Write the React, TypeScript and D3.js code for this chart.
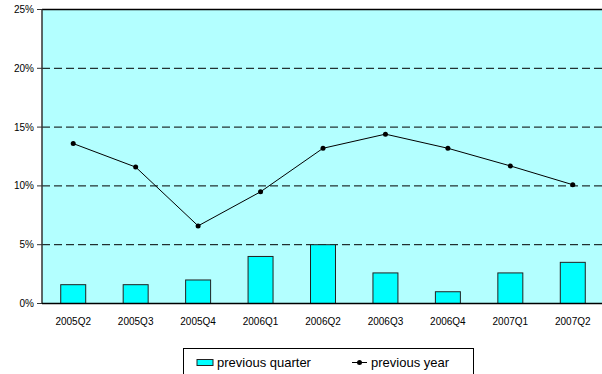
import React from "react";
import * as d3 from "d3";

const categories = ["2005Q2", "2005Q3", "2005Q4", "2006Q1", "2006Q2", "2006Q3", "2006Q4", "2007Q1", "2007Q2"];
const previousQuarter = [1.6, 1.6, 2.0, 4.0, 5.0, 2.6, 1.0, 2.6, 3.5];
const previousYear = [13.6, 11.6, 6.6, 9.5, 13.2, 14.4, 13.2, 11.7, 10.1];
const yTicks = [0, 5, 10, 15, 20, 25];

const W = 602;
const H = 374;
const plot = { left: 42, top: 9.5, right: 604, bottom: 303.5 };

export default function App() {
  const x = d3.scaleBand<string>().domain(categories).range([plot.left, plot.right]).paddingInner(0.6).paddingOuter(0.3);
  const xc = d3.scalePoint<string>().domain(categories).range([plot.left, plot.right]).padding(0.5);
  const y = d3.scaleLinear().domain([0, 25]).range([plot.bottom, plot.top]);
  const line = d3
    .line<number>()
    .x((_, i) => xc(categories[i]) as number)
    .y((d) => y(d));
  const font = "Liberation Sans, Arial, sans-serif";

  return (
    <svg width={W} height={H} style={{ position: "absolute", left: 0, top: 0 }}>
      <rect x={0} y={0} width={W} height={H} fill="#ffffff" />
      <rect x={plot.left} y={plot.top} width={plot.right - plot.left} height={plot.bottom - plot.top} fill="#b3ffff" />
      {yTicks.filter((t) => t > 0 && t < 25).map((t) => (
        <line key={t} x1={plot.left} x2={plot.right} y1={y(t)} y2={y(t)} stroke="#000" strokeWidth={1} strokeDasharray="8,4" />
      ))}
      <line x1={plot.left} x2={plot.right} y1={y(25)} y2={y(25)} stroke="#000" strokeWidth={1.5} />
      {categories.map((c, i) => (
        <rect
          key={c}
          x={x(c)}
          y={y(previousQuarter[i])}
          width={x.bandwidth()}
          height={y(0) - y(previousQuarter[i])}
          fill="#00ffff"
          stroke="#222"
          strokeWidth={1}
        />
      ))}
      <path d={line(previousYear) || ""} fill="none" stroke="#000" strokeWidth={1} />
      {previousYear.map((v, i) => (
        <circle key={i} cx={xc(categories[i])} cy={y(v)} r={2.5} fill="#000" />
      ))}
      <line x1={plot.left} x2={plot.left} y1={plot.top} y2={plot.bottom} stroke="#333" strokeWidth={1.5} />
      <line x1={plot.left} x2={plot.right} y1={plot.bottom} y2={plot.bottom} stroke="#000" strokeWidth={1.5} />
      {yTicks.map((t) => (
        <g key={t}>
          <line x1={plot.left - 5} x2={plot.left} y1={y(t)} y2={y(t)} stroke="#333" strokeWidth={1} />
          <text x={34} y={y(t)} dy="0.35em" textAnchor="end" fontFamily={font} fontSize={10} fill="#000">
            {t}%
          </text>
        </g>
      ))}
      {categories.map((c) => (
        <text key={c} x={xc(c)} y={325} textAnchor="middle" fontFamily={font} fontSize={10} fill="#000">
          {c}
        </text>
      ))}
      <g>
        <rect x={183.5} y={348.5} width={290} height={30} fill="#fff" stroke="#000" strokeWidth={1} />
        <rect x={197} y={359.5} width={16} height={6} fill="#00ffff" stroke="#222" strokeWidth={1} />
        <text x={217} y={367} fontFamily={font} fontSize={13} fill="#000">previous quarter</text>
        <line x1={352} x2={367} y1={362.5} y2={362.5} stroke="#000" strokeWidth={1} />
        <circle cx={359.5} cy={362.5} r={2.5} fill="#000" />
        <text x={371} y={367} fontFamily={font} fontSize={13} fill="#000">previous year</text>
      </g>
    </svg>
  );
}
